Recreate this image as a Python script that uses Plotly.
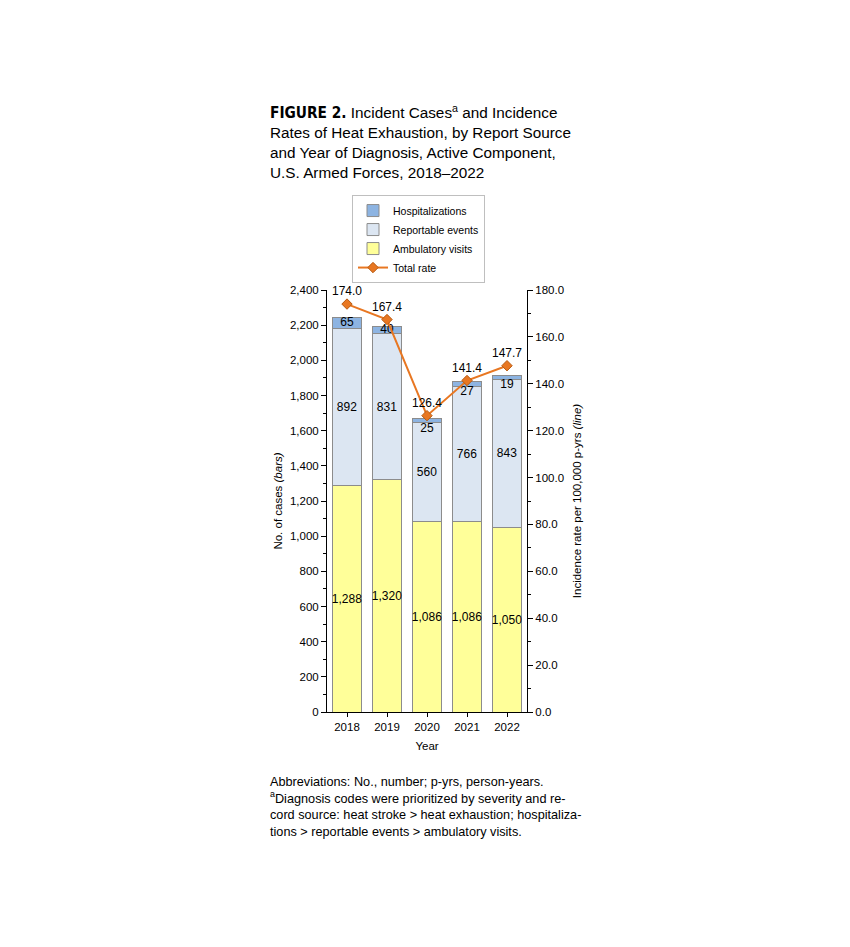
import plotly.graph_objects as go

years = ["2018", "2019", "2020", "2021", "2022"]
ambulatory = [1288, 1320, 1086, 1086, 1050]
reportable = [892, 831, 560, 766, 843]
hospital = [65, 40, 25, 27, 19]
total_rate = [174.0, 167.4, 126.4, 141.4, 147.7]

FONT = "Liberation Sans, Arial, sans-serif"

fig = go.Figure()

fig.add_trace(go.Bar(x=years, y=ambulatory, name="Ambulatory visits", legendrank=3,
                     marker=dict(color="#FFFF99", line=dict(color="#8c8c8c", width=1)),
                     text=[f"{v:,}" for v in ambulatory], textposition="inside",
                     insidetextanchor="middle", textangle=0, constraintext="none",
                     textfont=dict(size=12, color="black")))
fig.add_trace(go.Bar(x=years, y=reportable, name="Reportable events", legendrank=2,
                     marker=dict(color="#DCE6F2", line=dict(color="#8c8c8c", width=1)),
                     text=[f"{v:,}" for v in reportable], textposition="inside",
                     insidetextanchor="middle", textangle=0, constraintext="none",
                     textfont=dict(size=12, color="black")))
fig.add_trace(go.Bar(x=years, y=hospital, name="Hospitalizations", legendrank=1,
                     marker=dict(color="#8DB4E2", line=dict(color="#8c8c8c", width=1))))

# hospitalization labels: centred when the segment is big enough, else just below it
hosp_y = [a + r + (h / 2 if h >= 40 else 0) for a, r, h in zip(ambulatory, reportable, hospital)]
hosp_pos = ["middle center" if h >= 40 else "bottom center" for h in hospital]
fig.add_trace(go.Scatter(x=years, y=hosp_y, mode="text", text=[str(h) for h in hospital],
                         textposition=hosp_pos, textfont=dict(size=12, color="black"),
                         showlegend=False, hoverinfo="skip", cliponaxis=False))

fig.add_trace(go.Scatter(x=years, y=total_rate, name="Total rate", legendrank=4, yaxis="y2",
                         mode="lines+markers+text", cliponaxis=False,
                         line=dict(color="#E87722", width=2),
                         marker=dict(symbol="diamond", size=8, color="#E87722",
                                     line=dict(color="#B85A10", width=1)),
                         text=[f"{v:.1f}" for v in total_rate], textposition="top center",
                         textfont=dict(size=12, color="black")))

title = ("<b><span style='font-family:DejaVu Sans Condensed,Liberation Sans Narrow,sans-serif'>"
         "FIGURE 2.</span></b>"
         " Incident Cases<sup>a</sup> and Incidence<br>"
         "Rates of Heat Exhaustion, by Report Source<br>"
         "and Year of Diagnosis, Active Component,<br>"
         "U.S. Armed Forces, 2018–2022")

foot = ("Abbreviations: No., number; p-yrs, person-years.<br>"
        "<sup>a</sup>Diagnosis codes were prioritized by severity and re-<br>"
        "cord source: heat stroke > heat exhaustion; hospitaliza-<br>"
        "tions > reportable events > ambulatory visits.")

fig.update_layout(
    width=850, height=947,
    margin=dict(l=319, r=331, t=282, b=243),
    paper_bgcolor="white", plot_bgcolor="white",
    font=dict(family=FONT, size=11.5, color="black"),
    barmode="stack", bargap=0.28,
    showlegend=True,
    legend=dict(x=0.125, y=1.225, xanchor="left", yanchor="top",
                traceorder="normal", bordercolor="#bfbfbf", borderwidth=1,
                font=dict(size=10.5), tracegroupgap=0, itemwidth=30),
    xaxis=dict(title=dict(text="Year", standoff=10, font=dict(size=11.5)),
               showline=True, linecolor="black", ticks="outside", ticklen=4,
               tickcolor="black"),
    yaxis=dict(title=dict(text="No. of cases <i>(bars)</i>", font=dict(size=11.5), standoff=4),
               range=[0, 2400], dtick=200, tickformat=",", showgrid=False,
               showline=True, linecolor="black", ticks="outside", ticklen=5,
               tickcolor="black", zeroline=False,
               minor=dict(dtick=100, ticks="outside", ticklen=3, tickcolor="black")),
    yaxis2=dict(title=dict(text="Incidence rate per 100,000 p-yrs <i>(line)</i>",
                           font=dict(size=11.5), standoff=9),
                overlaying="y", side="right", range=[0, 180], dtick=20,
                tickformat=".1f", showgrid=False, showline=True, linecolor="black",
                ticks="outside", ticklen=5, tickcolor="black", zeroline=False,
                minor=dict(dtick=10, ticks="outside", ticklen=3, tickcolor="black")),
    annotations=[
        dict(text=title, xref="paper", yref="paper", x=-0.295, y=1.45,
             xanchor="left", yanchor="top", align="left", showarrow=False,
             font=dict(size=15.3, family=FONT)),
        dict(text=foot, xref="paper", yref="paper", x=-0.295, y=-0.145,
             xanchor="left", yanchor="top", align="left", showarrow=False,
             font=dict(size=12.7, family=FONT)),
    ],
)

fig.write_html("out.html")
